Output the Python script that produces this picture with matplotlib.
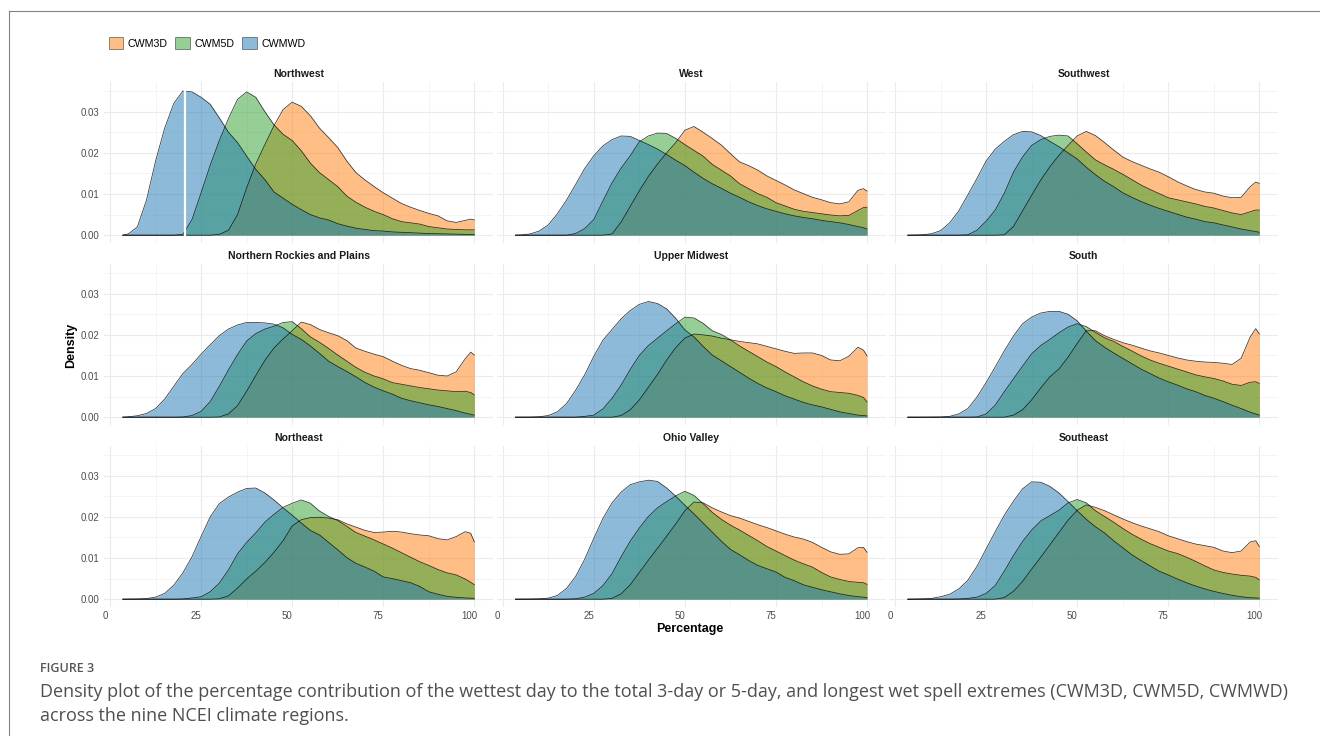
import numpy as np
import matplotlib
matplotlib.use("Agg")
import matplotlib.pyplot as plt
from matplotlib.patches import Patch
from matplotlib.lines import Line2D
from matplotlib.transforms import ScaledTranslation

plt.rcParams['font.family'] = ['Liberation Sans', 'DejaVu Sans']

# percentage values at which each density curve is given
pct = [3.5, 5, 7.5, 10, 12.5, 15, 17.5, 20, 22.5, 25, 27.5, 30, 32.5, 35, 37.5,
       40, 42.5, 45, 47.5, 50, 52.5, 55, 57.5, 60, 62.5, 65, 67.5, 70, 72.5,
       75, 77.5, 80, 82.5, 85, 87.5, 90, 92.5, 95, 97.5, 99, 100]

# densities (x 1e-3), one list per region and index
nw_3d = [0] * 11 + [0.2, 1.2, 5, 11.5, 17.3, 22, 26.6, 30.5, 32.3, 31.3, 29, 26, 23.7, 21.3, 18,
                    15.2, 13.4, 11.8, 10.3, 9, 7.7, 6.8, 6, 5.3, 4.7, 3.5, 3.1, 3.6, 3.9, 3.7]
nw_5d = [0] * 7 + [0.2, 3.8, 10.3, 17, 23, 28.3, 33, 34.8, 33.5, 30, 26.8, 24.5, 23, 20.5, 17.5,
                   15.2, 13.5, 11.8, 9.5, 8, 6.8, 5.8, 5, 4, 3.3, 3, 2.7, 2.1, 1.8, 1.5, 1.4, 1.3,
                   1.3, 1.3]
nw_wd = [0, 0.3, 2, 8.5, 18, 26, 32, 35, 34.8, 33.5, 31.8, 28.5, 25, 22.5, 19.2, 16, 13.5, 10.5,
         9, 7.5, 6.2, 5, 4.2, 3.7, 2.8, 2.2, 1.7, 1.4, 1.1, 1.0, 0.8, 0.7, 0.6, 0.5, 0.4, 0.35,
         0.3, 0.25, 0.2, 0.2, 0.2]

w_3d = [0] * 11 + [0.3, 3.2, 7, 10.8, 14.3, 17.3, 20, 22.5, 25.5, 26.4, 25, 23.5, 21.9, 19.8,
                   17.8, 16.9, 15.8, 14.4, 13.3, 12.2, 11, 10.1, 9.2, 8.6, 7.9, 7.6, 8.1, 10.9,
                   11.3, 10.7]
w_5d = [0] * 7 + [0.4, 1.6, 3.8, 8.3, 12.7, 16.3, 19.3, 22.7, 24.1, 24.8, 24.7, 23.5, 22, 20.6,
                  19.2, 17.2, 15.8, 14.4, 12.5, 11.3, 10.1, 9.2, 7.9, 7.1, 6.3, 5.8, 5.5, 5.2, 4.9,
                  4.7, 4.8, 6.0, 6.7, 6.8]
w_wd = [0, 0.05, 0.3, 1.0, 2.5, 5.2, 8.5, 12.3, 16.2, 19.3, 21.7, 23.2, 24.1, 24, 23, 22, 20.9,
        19.6, 18.2, 16.9, 15.3, 13.8, 12.5, 11.4, 10.2, 9.2, 8.1, 7.2, 6.4, 5.8, 5.2, 4.7, 4.3,
        4, 3.6, 3.3, 3, 2.6, 2.1, 1.8, 1.5]

sw_3d = [0] * 11 + [0.1, 2.1, 5.9, 9.7, 13.4, 16.6, 19.4, 21.8, 24.1, 25.2, 24.2, 22.5, 20.7, 19,
                    17.9, 17, 16.1, 15.3, 14.2, 13, 12, 11.1, 10.5, 10.2, 9.5, 9.1, 9.2, 11.8,
                    12.9, 12.6]
sw_5d = [0] * 7 + [0.1, 1.2, 3.4, 6.1, 10.2, 15.3, 19, 21.8, 23.2, 24, 24.3, 24.1, 22.2, 20.2,
                   18.3, 17.1, 16, 14.8, 13.5, 12.2, 11.1, 10.1, 9.1, 8.6, 8.1, 7.6, 7, 6.6, 6,
                   5.4, 5.0, 5.7, 6.1, 6.1]
sw_wd = [0, 0.02, 0.1, 0.35, 1.1, 3, 5.9, 9.8, 13.8, 18, 20.9, 22.8, 24.4, 25.2, 25.1, 24.2,
         22.8, 21.5, 20, 18.5, 16.5, 14.7, 13.1, 11.8, 10.3, 9.2, 8.2, 7.3, 6.5, 5.8, 5.1, 4.4,
         3.9, 3.3, 3, 2.5, 2, 1.5, 1.1, 0.9, 0.7]

nrp_3d = [0] * 11 + [0.05, 0.8, 2.8, 6.3, 10.1, 13.8, 16.8, 19, 21, 23.1, 22.5, 21.3, 20.5,
                     19.8, 18.6, 16.8, 16, 15.3, 14.7, 13.6, 12.6, 11.8, 11.4, 10.8, 10.2, 10,
                     11, 14.2, 15.8, 15.1]
nrp_5d = [0] * 7 + [0.05, 0.4, 1.4, 3.8, 7.5, 11.5, 15.2, 18.5, 20.3, 21.4, 22.1, 23, 23.2, 21.5,
                    19.5, 18.2, 16.7, 15.1, 13.6, 12.1, 10.9, 10, 9.3, 8.4, 8, 7.6, 7.2, 6.9,
                    6.6, 6.4, 6.2, 6.3, 6, 5.4]
nrp_wd = [0, 0.1, 0.35, 0.9, 2.1, 4.4, 7.5, 10.6, 12.8, 15.3, 17.6, 19.8, 21.4, 22.4, 23, 23,
          22.9, 22.6, 21.7, 20.1, 18.9, 17.3, 15.5, 13.6, 12.3, 11.1, 9.8, 8.4, 7.3, 6.4, 5.6,
          4.6, 4, 3.5, 3, 2.6, 2.1, 1.6, 1, 0.7, 0.5]

um_3d = [0] * 12 + [0.4, 1.8, 4.2, 7.3, 10.4, 13.9, 16.9, 19.2, 20.2, 20, 19.7, 19.2, 18.8,
                    18.4, 18.1, 17.8, 17.2, 16.6, 16, 15.5, 15.6, 15.6, 15, 13.9, 13.7, 14.8,
                    17.0, 16.3, 14.9]
um_5d = [0] * 8 + [0.2, 0.5, 2, 4.6, 7.8, 11.6, 15, 17.4, 19.2, 21, 22.7, 24.3, 24.1, 22.8, 21,
                   20.1, 18.8, 17.3, 16, 14.7, 13.4, 12.3, 11, 9.8, 8.6, 7.6, 6.8, 6.2, 6, 5.8,
                   5.3, 4.8, 3.7]
um_wd = [0, 0, 0.02, 0.1, 0.4, 1.3, 3.3, 6.5, 10.3, 14.8, 18.7, 21.3, 23.9, 25.9, 27.4, 28.1,
         27.6, 26.3, 24, 21.2, 19.5, 17.2, 15.1, 13.7, 12.3, 10.9, 9.5, 8.2, 7.1, 6.2, 5.2, 4.4,
         3.6, 3, 2.5, 1.9, 1.3, 0.9, 0.5, 0.4, 0.3]

s_3d = [0] * 12 + [0.5, 1.8, 4.2, 7.1, 9.8, 11.7, 14.6, 17.9, 21, 21, 19.8, 18.9, 18.1, 17.5,
                   16.8, 16.1, 15.6, 15, 14.4, 13.9, 13.6, 13.4, 13.3, 13.1, 12.8, 14.3, 19.5,
                   21.5, 20.2]
s_5d = [0] * 8 + [0.05, 0.8, 2.9, 6.2, 9.3, 12.4, 15.4, 17.4, 18.9, 20.5, 21.9, 22.7, 22, 20.6,
                  19.3, 18.4, 17.2, 16.1, 14.9, 13.9, 13.1, 12.4, 11.7, 11, 10.3, 9.8, 9.4, 8.8,
                  8, 7.7, 8.5, 8.6, 8.2]
s_wd = [0, 0, 0, 0.02, 0.05, 0.2, 0.8, 2.1, 4.9, 8.4, 12.2, 16.1, 19.7, 22.7, 24.3, 25.3, 25.7,
        25.7, 25, 23.4, 20.9, 18.6, 17, 15.6, 14.3, 13, 11.7, 10.6, 9.5, 8.6, 7.8, 6.9, 6.2,
        5.3, 4.6, 3.8, 2.9, 2.1, 1.2, 0.8, 0.5]

ne_3d = [0] * 11 + [0.1, 0.8, 2.7, 4.9, 6.8, 8.9, 11.4, 14.2, 17.8, 19.3, 19.8, 19.9, 19.7,
                    19.3, 18.3, 17.5, 16.7, 16.2, 16.3, 16.5, 16.3, 15.9, 15.6, 15.4, 14.7,
                    14.4, 15.2, 16.4, 16, 13.9]
ne_5d = [0] * 7 + [0.05, 0.3, 0.6, 1.8, 3.9, 7.1, 11, 13.8, 16.1, 18.7, 20.6, 22.3, 23.3, 24.1,
                   23.3, 21.4, 20.1, 19.1, 17.7, 16.2, 15.3, 14.4, 13.4, 12.4, 11.3, 10.2, 9.1,
                   8.2, 7.2, 6.4, 5.9, 4.9, 4.1, 3.5]
ne_wd = [0, 0.02, 0.05, 0.15, 0.5, 1.4, 3.4, 6.4, 10.3, 15.2, 20, 23.2, 24.8, 26, 26.9, 27,
         25.8, 24.1, 22.2, 20.4, 18.5, 16.7, 15.6, 13.8, 12, 10.1, 8.7, 7.8, 6.8, 5.4, 5, 4.5,
         4, 3.1, 1.8, 1.2, 0.7, 0.45, 0.3, 0.25, 0.2]

ov_3d = [0] * 11 + [0.2, 1.3, 3.5, 6.5, 9.5, 12.4, 15.3, 18.3, 21.5, 23.6, 23.4, 22.2, 21.2,
                    20.3, 19.7, 18.9, 18.1, 17.4, 16.6, 15.8, 15.1, 14.6, 13.8, 12.6, 11.5,
                    10.9, 11, 12.5, 12.6, 11.4]
ov_5d = [0] * 7 + [0.1, 0.5, 1.4, 3.3, 6.2, 10.3, 14.1, 17.3, 20.1, 22.2, 23.7, 25.1, 26.2,
                   25.2, 23.2, 21.1, 19.4, 18, 16.8, 15.5, 14.2, 12.8, 11.7, 10.6, 9.5, 8.6, 7.8,
                   6.5, 5.4, 4.8, 4.3, 4.1, 4, 3.6]
ov_wd = [0, 0.01, 0.03, 0.08, 0.25, 0.9, 2.6, 5.5, 9.7, 14.8, 19.6, 23.4, 26, 27.8, 28.5, 28.9,
         28.6, 27, 25, 22.8, 20.7, 18.5, 16.3, 14.1, 12.1, 10.8, 9.4, 8.2, 7.4, 6.6, 5.3, 4.5,
         3.5, 2.9, 2.3, 1.8, 1.3, 0.9, 0.6, 0.5, 0.4]

se_3d = [0] * 11 + [0.4, 1.9, 4.3, 7.3, 10.2, 13.2, 16.2, 19.2, 21.6, 22.9, 22.3, 21.5, 20.5,
                    19.5, 18.6, 17.8, 17.1, 16.4, 15.4, 14.7, 14, 13.4, 13, 12.6, 11.7, 11.3,
                    11.7, 13.9, 14.2, 12.8]
se_5d = [0] * 6 + [0.05, 0.2, 0.5, 1.4, 3.3, 6.8, 10.6, 14, 16.8, 19, 20.3, 21.6, 23.4, 24.2,
                   23.4, 21.5, 20.1, 18.7, 17.2, 15.8, 14.6, 13.5, 12.6, 11.7, 11.1, 10.2, 9.2,
                   8.1, 7.1, 6.5, 6.1, 5.8, 5.6, 5.3, 4.7]
se_wd = [0, 0.02, 0.08, 0.18, 0.6, 1.2, 2.5, 4.6, 8, 12.2, 16.4, 20.4, 23.8, 26.8, 28.5, 28.4,
         27.4, 25.8, 23.7, 21.5, 19.4, 17.6, 16.1, 14.2, 12.5, 10.8, 9.4, 8.1, 6.8, 5.9, 4.9, 4,
         3.2, 2.5, 1.9, 1.4, 0.95, 0.6, 0.35, 0.3, 0.25]

regions = ["Northwest", "West", "Southwest",
           "Northern Rockies and Plains", "Upper Midwest", "South",
           "Northeast", "Ohio Valley", "Southeast"]
series = ["CWM3D", "CWM5D", "CWMWD"]
colors = ["#ff7f0e", "#2ca02c", "#1f77b4"]

curves = {
    "Northwest": (nw_3d, nw_5d, nw_wd),
    "West": (w_3d, w_5d, w_wd),
    "Southwest": (sw_3d, sw_5d, sw_wd),
    "Northern Rockies and Plains": (nrp_3d, nrp_5d, nrp_wd),
    "Upper Midwest": (um_3d, um_5d, um_wd),
    "South": (s_3d, s_5d, s_wd),
    "Northeast": (ne_3d, ne_5d, ne_wd),
    "Ohio Valley": (ov_3d, ov_5d, ov_wd),
    "Southeast": (se_3d, se_5d, se_wd),
}

W, H = 1320, 736
fig = plt.figure(figsize=(W / 100, H / 100), dpi=100)

col_left = [104, 496.7, 889]
row_top = [81.6, 263.6, 445.6]
pw, ph = 389.3, 161

# x tick labels sit a few pixels left of their gridlines
xlab_shift = ScaledTranslation(-5 / 100, 0, fig.dpi_scale_trans)

x = np.array(pct)
for i, reg in enumerate(regions):
    r, c = divmod(i, 3)
    ax = fig.add_axes([col_left[c] / W, 1 - (row_top[r] + ph) / H, pw / W, ph / H])
    for dens, col in zip(curves[reg], colors):
        y = np.array(dens) / 1000
        ax.fill_between(x, y, color=col, alpha=0.5, lw=0)
        ax.plot(x, y, color="black", lw=0.55, alpha=0.8)
    if reg == "Northwest":
        # thin white stripe through the CWMWD peak
        top = np.interp(20.6, x, np.array(nw_wd) / 1000)
        ax.plot([20.6, 20.6], [0, top], color="white", lw=1.6)

    ax.set_xlim(-1.65, 105.2)
    ax.set_ylim(-0.0018, 0.0373)
    ax.set_xticks([0, 25, 50, 75, 100])
    ax.set_xticks([12.5, 37.5, 62.5, 87.5], minor=True)
    ax.set_yticks([0, 0.01, 0.02, 0.03])
    ax.set_yticks([0.005, 0.015, 0.025, 0.035], minor=True)
    ax.set_yticklabels(["0.00", "0.01", "0.02", "0.03"])
    ax.set_axisbelow(True)
    ax.grid(which="major", color="#ebebeb", lw=0.8)
    ax.grid(which="minor", color="#f3f3f3", lw=0.6)
    for sp in ax.spines.values():
        sp.set_visible(False)
    ax.tick_params(which="both", length=0, labelsize=7, labelcolor="#4d4d4d", pad=3.5)
    if c > 0:
        ax.tick_params(labelleft=False)
    if r < 2:
        ax.tick_params(labelbottom=False)
    for lab in ax.get_xticklabels():
        lab.set_transform(lab.get_transform() + xlab_shift)
    ax.set_title(reg, fontsize=7.5, fontweight="bold", color="#1a1a1a", pad=3.5)

fig.text(71 / W, 1 - 345 / H, "Density", rotation=90, ha="center", va="center",
         fontsize=9, fontweight="bold")
fig.text(690 / W, 1 - 629 / H, "Percentage", ha="center", va="center",
         fontsize=9, fontweight="bold")

handles = [Patch(facecolor=col, alpha=0.5, edgecolor="black", lw=0.6) for col in colors]
fig.legend(handles, series, loc="upper left", bbox_to_anchor=(108.5 / W, 1 - 37.5 / H),
           ncol=3, frameon=False, fontsize=7.7, handlelength=1.32, handleheight=1.32,
           handletextpad=0.45, columnspacing=0.75, borderaxespad=0, borderpad=0)

# page frame
fig.add_artist(Line2D([9 / W, 1], [1 - 11 / H, 1 - 11 / H], color="#80808a", lw=0.8))
fig.add_artist(Line2D([9 / W, 9 / W], [0, 1 - 11 / H], color="#80808a", lw=0.8))

cap_font = ["Open Sans", "DejaVu Sans"]
fig.text(40 / W, 1 - 668 / H, "FIGURE 3", family=cap_font, fontsize=9,
         fontweight="semibold", color="#555555", va="center")
cap1 = fig.text(40 / W, 1 - 692 / H,
                "Density plot of the percentage contribution of the wettest day to the total "
                "3-day or 5-day, and longest wet spell extremes (CWM3D, CWM5D, CWMWD)",
                family=cap_font, fontsize=11, color="#4f4f4f", va="center")
cap2 = fig.text(40 / W, 1 - 716 / H, "across the nine NCEI climate regions.",
                family=cap_font, fontsize=11, color="#4f4f4f", va="center")

# size the caption so its first line runs to the right margin
fig.canvas.draw()
span = cap1.get_window_extent().width
fs = 11 * 1258 / span
cap1.set_fontsize(fs)
cap2.set_fontsize(fs)

fig.savefig("out.png", dpi=100)
